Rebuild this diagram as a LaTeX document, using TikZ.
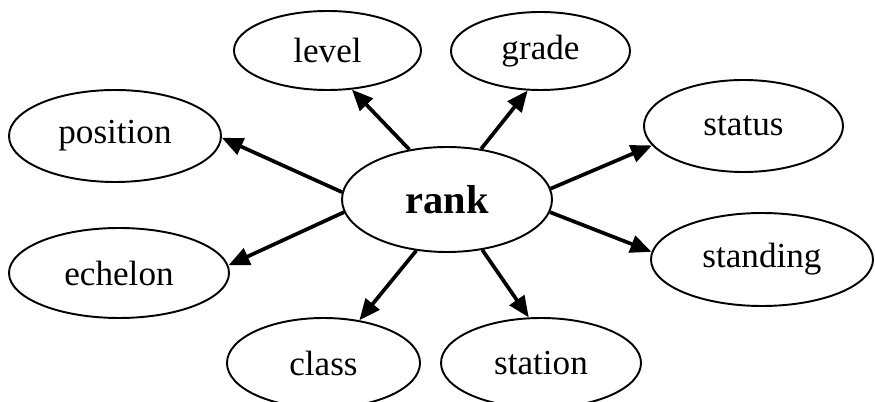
\documentclass[tikz,border=0pt]{standalone}
\usepackage{fontspec}
\setmainfont{Liberation Serif}
\usetikzlibrary{shapes.geometric,arrows.meta}

\begin{document}
\begin{tikzpicture}[scale=0.2]
\tikzstyle{every node}+=[inner sep=0pt]
\tikzstyle{word}=[draw=black, ellipse, line width=1.1pt, font=\fontsize{20}{22}\selectfont]
\tikzstyle{link}=[black, line width=2.1pt, -{Triangle[length=12pt,width=10pt]}]
\useasboundingbox (0,0) rectangle (87.5,-40.2);
\node [word, font=\fontsize{23}{26}\selectfont\bfseries, minimum width=4.2cm, minimum height=2.1cm] (rank) at (44.7,-19.95) {rank};
\node [word, minimum width=3.74cm, minimum height=1.58cm] (level) at (32.75,-5.05) {level};
\node [word, minimum width=3.58cm, minimum height=1.56cm] (grade) at (54.05,-5.1) {grade};
\node [word, minimum width=4.24cm, minimum height=1.84cm] (position) at (11.5,-13.6) {position};
\node [word, minimum width=3.98cm, minimum height=1.84cm] (status) at (74.35,-12.6) {status};
\node [word, minimum width=4.4cm, minimum height=1.8cm] (echelon) at (11.9,-27.3) {echelon};
\node [word, minimum width=4.44cm, minimum height=1.86cm] (standing) at (76.2,-25.95) {standing};
\node [word, minimum width=3.86cm, minimum height=1.8cm] (class) at (32.35,-36.3) {class};
\node [word, minimum width=4cm, minimum height=1.8cm] (station) at (54.1,-36.3) {station};
\draw [link] (rank.127.8) -- (level.-58);
\draw [link] (rank.56.3) -- (grade.-108.2);
\draw [link] (rank.6.25) -- (status.192.9);
\draw [link] (rank.-7.5) -- (standing.176.6);
\draw [link] (rank.-55.3) -- (station.105.8);
\draw [link] (rank.-121.4) -- (class.50);
\draw [link] (rank.187.3) -- (echelon.4.7);
\draw [link] (rank.176) -- (position.-1);
\end{tikzpicture}
\end{document}
